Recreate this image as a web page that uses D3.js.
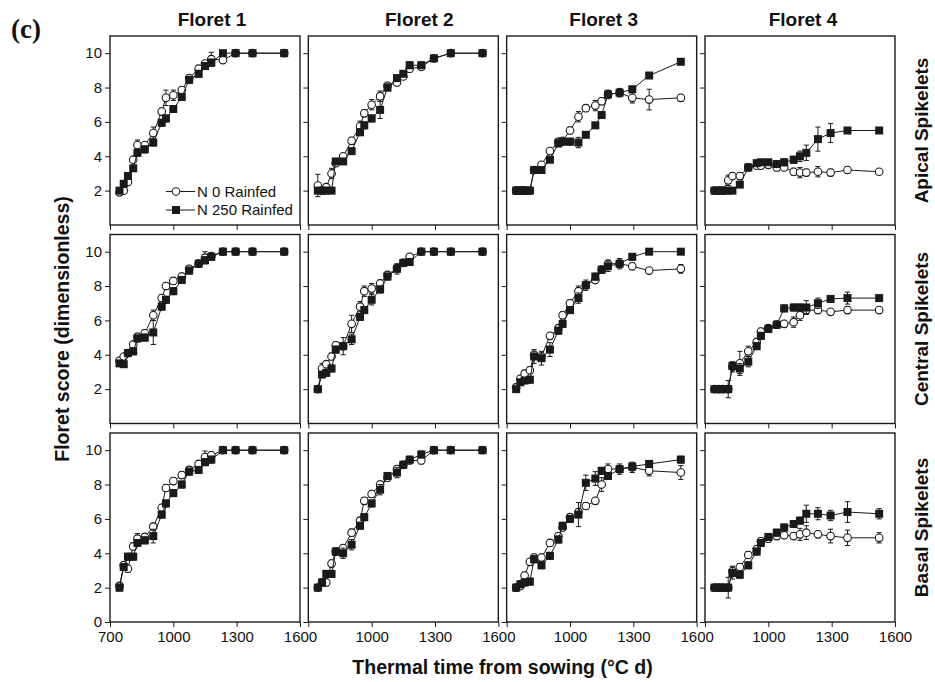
<!DOCTYPE html>
<html><head><meta charset="utf-8">
<script src="https://cdn.jsdelivr.net/npm/d3@7/dist/d3.min.js"></script>
<style>
html,body{margin:0;padding:0;background:#fff;}
text{font-family:"Liberation Sans",Arial,Helvetica,sans-serif;fill:#111;}
</style></head>
<body>
<svg id="chart" width="935" height="682"></svg>
<script>
// ---------- DATA ----------
const thermalTime = [745, 765, 785, 810, 830, 865, 905, 945, 965, 1000, 1040, 1075, 1120, 1150, 1180, 1235, 1295, 1375, 1525];
const floretTitles = ["Floret 1", "Floret 2", "Floret 3", "Floret 4"];
const spikeletTitles = ["Apical Spikelets", "Central Spikelets", "Basal Spikelets"];
const seriesNames = ["N 0 Rainfed", "N 250 Rainfed"];
const xTickValues = [700, 1000, 1300, 1600];
const yTickValuesUpper = [2, 4, 6, 8, 10];
const yTickValuesBottom = [0, 2, 4, 6, 8, 10];

// Floret score, one inner array per floret (1..4)
const n0Apical = [
  [1.9, 2.0, 2.5, 3.8, 4.65, 4.65, 5.35, 6.6, 7.4, 7.55, 7.85, 8.55, 9.1, 9.4, 9.65, 9.6, 10, 10, 10],
  [2.3, 2.0, 2.2, 3.0, 3.6, 4.0, 4.9, 5.75, 6.5, 7.0, 7.5, 8.1, 8.3, 8.65, 9.1, 9.2, 9.7, 10, 10],
  [2.0, 2.0, 2.0, 2.0, 3.2, 3.5, 4.3, 4.85, 4.9, 5.5, 6.3, 6.8, 6.95, 7.2, 7.6, 7.7, 7.4, 7.3, 7.4],
  [2.0, 2.0, 2.0, 2.6, 2.85, 2.85, 3.35, 3.45, 3.45, 3.5, 3.35, 3.35, 3.1, 3.05, 3.05, 3.1, 3.05, 3.2, 3.1]
];
const n250Apical = [
  [2.0, 2.4, 2.85, 3.3, 4.2, 4.4, 4.8, 5.95, 6.2, 6.75, 7.45, 8.45, 8.8, 9.25, 9.45, 10, 10, 10, 10],
  [2.0, 2.0, 2.0, 2.0, 3.7, 3.7, 4.3, 5.4, 5.8, 6.2, 6.7, 8.0, 8.55, 8.8, 9.3, 9.3, 9.7, 10, 10],
  [2.0, 2.0, 2.0, 2.0, 3.2, 3.2, 3.8, 4.75, 4.85, 4.85, 4.8, 5.25, 5.8, 6.4, 7.6, 7.7, 7.9, 8.7, 9.5],
  [2.0, 2.0, 2.0, 2.0, 2.0, 2.35, 3.35, 3.6, 3.65, 3.65, 3.55, 3.65, 3.8, 4.0, 4.2, 5.0, 5.35, 5.5, 5.5]
];
const n0Central = [
  [3.65, 3.9, 4.1, 4.6, 5.05, 5.25, 6.3, 7.3, 8.0, 8.3, 8.55, 9.0, 9.3, 9.65, 9.75, 10, 10, 10, 10],
  [2.0, 3.2, 3.45, 3.9, 4.55, 4.5, 5.8, 6.8, 7.7, 7.85, 8.15, 8.65, 9.05, 9.35, 9.7, 10, 10, 10, 10],
  [2.1, 2.6, 2.9, 3.1, 4.0, 3.9, 5.1, 5.55, 6.3, 7.0, 7.7, 8.05, 8.35, 8.95, 9.3, 9.3, 9.15, 8.9, 9.0],
  [2.0, 2.0, 2.0, 2.0, 3.3, 3.5, 4.2, 4.75, 5.35, 5.55, 5.75, 5.8, 5.9, 6.3, 6.6, 6.6, 6.5, 6.6, 6.6]
];
const n250Central = [
  [3.5, 3.45, 4.1, 4.2, 4.95, 5.0, 5.3, 6.8, 7.2, 7.7, 8.35, 8.9, 9.3, 9.5, 9.7, 10, 10, 10, 10],
  [2.0, 2.85, 2.95, 3.2, 4.3, 4.5, 4.9, 6.2, 6.6, 7.2, 7.8, 8.55, 9.0, 9.35, 9.4, 10, 10, 10, 10],
  [2.0, 2.4, 2.5, 2.55, 3.9, 3.8, 4.3, 5.4, 5.8, 6.6, 7.3, 8.05, 8.55, 8.95, 9.15, 9.3, 9.7, 10, 10],
  [2.0, 2.0, 2.0, 2.0, 3.35, 3.2, 3.6, 4.5, 5.1, 5.5, 5.75, 6.7, 6.75, 6.75, 6.75, 7.0, 7.25, 7.3, 7.3]
];
const n0Basal = [
  [2.1, 3.3, 3.1, 4.4, 4.85, 4.95, 5.55, 6.65, 7.8, 8.2, 8.55, 8.85, 9.2, 9.6, 9.7, 10, 10, 10, 10],
  [2.0, 2.3, 2.3, 3.4, 4.1, 4.3, 5.2, 5.9, 7.05, 7.45, 8.0, 8.4, 8.9, 9.15, 9.4, 9.4, 10, 10, 10],
  [2.0, 2.1, 2.7, 3.5, 3.75, 3.75, 4.6, 5.0, 5.5, 6.1, 6.4, 6.75, 7.05, 8.0, 8.9, 8.9, 9.0, 8.8, 8.7],
  [2.0, 2.0, 2.0, 2.0, 2.95, 3.2, 3.9, 4.25, 4.7, 4.85, 5.0, 5.05, 5.0, 5.1, 5.2, 5.1, 5.0, 4.9, 4.9]
];
const n250Basal = [
  [2.0, 3.2, 3.8, 3.8, 4.6, 4.75, 5.0, 6.25, 6.9, 7.5, 8.0, 8.75, 8.85, 9.3, 9.45, 10, 10, 10, 10],
  [2.0, 2.3, 2.8, 2.8, 4.1, 4.0, 4.5, 5.6, 6.1, 6.9, 7.7, 8.5, 8.7, 9.15, 9.45, 9.75, 10, 10, 10],
  [2.0, 2.2, 2.3, 2.35, 3.65, 3.3, 3.85, 4.8, 5.6, 6.0, 6.25, 8.1, 8.35, 8.8, 8.5, 8.9, 9.05, 9.2, 9.45],
  [2.0, 2.0, 2.0, 2.0, 2.85, 2.75, 3.3, 4.1, 4.6, 4.95, 5.2, 5.5, 5.7, 5.9, 6.3, 6.3, 6.2, 6.4, 6.3]
];

// Standard errors
const n0ApicalSE = [
  [.1,.1,.15,.15,.3,.15,.35,.2,.45,.3,.2,.15,.15,.15,.4,.15,0,0,0],
  [.65,.1,.2,.3,.2,.15,.2,.3,.2,.3,.3,.2,.2,.15,.2,.15,.1,0,0],
  [.2,.2,.2,.15,.15,.15,.15,.15,.15,.2,.3,.2,.3,.2,.2,.15,.3,.6,.2],
  [.1,.1,.1,.3,.2,.2,.2,.15,.15,.15,.2,.15,.2,.3,.2,.3,.2,.2,.1]
];
const n250ApicalSE = [
  [.15,.15,.15,.15,.2,.2,.2,.2,.2,.2,.2,.2,.2,.2,.2,0,0,0,0],
  [.1,.1,.15,.1,.15,.15,.15,.2,.2,.2,.5,.2,.15,.15,.2,.2,.15,0,0],
  [.2,.2,.2,.1,.15,.15,.15,.2,.2,.2,.3,.15,.15,.15,.25,.25,.15,.1,.1],
  [.1,.1,.1,.1,.15,.1,.15,.15,.15,.15,.15,.2,.2,.3,.45,.7,.55,.1,.1]
];
const n0CentralSE = [
  [.2,.15,.15,.15,.2,.2,.3,.2,.2,.2,.2,.2,.2,.35,.2,0,0,0,0],
  [.1,.3,.2,.2,.2,.2,.5,.3,.3,.3,.2,.2,.2,.2,.2,0,0,0,0],
  [.2,.2,.2,.2,.2,.2,.2,.2,.2,.2,.3,.2,.2,.2,.2,.2,.2,.1,.25],
  [.1,.1,.1,.1,.3,.7,.3,.2,.2,.2,.2,.2,.3,.3,.2,.2,.15,.2,.15]
];
const n250CentralSE = [
  [.15,.15,.15,.2,.2,.2,.7,.2,.2,.2,.2,.2,.2,.2,.2,0,0,0,0],
  [.1,.15,.2,.2,.2,.5,.3,.2,.2,.3,.2,.2,.3,.2,.2,0,0,0,0],
  [.1,.15,.15,.2,.4,.4,.4,.2,.2,.2,.3,.3,.2,.2,.3,.3,.2,.1,.1],
  [.1,.1,.1,.5,.2,.3,.3,.2,.2,.2,.2,.2,.2,.2,.4,.3,.2,.35,.1]
];
const n0BasalSE = [
  [.2,.2,.2,.2,.3,.2,.2,.2,.2,.2,.2,.2,.2,.35,.2,0,0,0,0],
  [.1,.2,.2,.2,.2,.2,.2,.2,.2,.2,.2,.2,.2,.2,.2,.2,.2,0,0],
  [.2,.2,.2,.2,.2,.2,.2,.2,.2,.2,.2,.2,.2,.4,.3,.3,.3,.3,.4],
  [.1,.1,.1,.6,.3,.2,.2,.2,.2,.2,.2,.2,.2,.35,.4,.2,.4,.45,.3]
];
const n250BasalSE = [
  [.2,.2,.2,.2,.2,.2,.4,.2,.2,.2,.2,.2,.2,.2,.2,0,0,0,0],
  [.1,.2,.2,.2,.2,.3,.3,.2,.2,.2,.3,.2,.3,.2,.2,.2,.2,0,0],
  [.2,.2,.2,.2,.2,.2,.2,.2,.2,.2,.7,.45,.4,.2,.2,.2,.2,.2,.2],
  [.1,.1,.1,.1,.35,.2,.2,.2,.2,.2,.2,.2,.2,.2,.5,.35,.3,.6,.3]
];

// ---------- LAYOUT ----------
const rowsN0 = [n0Apical, n0Central, n0Basal];
const rowsN250 = [n250Apical, n250Central, n250Basal];
const rowsN0SE = [n0ApicalSE, n0CentralSE, n0BasalSE];
const rowsN250SE = [n250ApicalSE, n250CentralSE, n250BasalSE];

const svg = d3.select("#chart");
const panelLeft0 = 110, panelW = 190, colStep = 198.33;
const panelBottom0 = 225, panelH = 189, rowStep = 198.5;
const ink = "#1a1a1a";
const sq = 8, cr = 3.8, capHalf = 2.6;

function addSeries(g, x, y, vals, se, isSquare) {
  const pts = thermalTime.map((t, i) => ({t, v: vals[i], e: se[i]}));
  const line = d3.line().x(d => x(d.t)).y(d => y(d.v));
  g.append("path").datum(pts).attr("d", line)
    .attr("fill", "none").attr("stroke", ink).attr("stroke-width", 1);
  const eb = g.append("g").attr("stroke", ink).attr("stroke-width", 1);
  pts.filter(d => d.e > 0).forEach(d => {
    const cx = x(d.t);
    eb.append("line").attr("x1", cx).attr("x2", cx).attr("y1", y(d.v - d.e)).attr("y2", y(d.v + d.e));
    [d.v - d.e, d.v + d.e].forEach(yy => {
      eb.append("line").attr("x1", cx - capHalf).attr("x2", cx + capHalf).attr("y1", y(yy)).attr("y2", y(yy));
    });
  });
  if (isSquare) {
    g.append("g").selectAll("rect").data(pts).join("rect")
      .attr("x", d => x(d.t) - sq / 2).attr("y", d => y(d.v) - sq / 2)
      .attr("width", sq).attr("height", sq).attr("fill", ink);
  } else {
    g.append("g").selectAll("circle").data(pts).join("circle")
      .attr("cx", d => x(d.t)).attr("cy", d => y(d.v)).attr("r", cr)
      .attr("fill", "#fff").attr("stroke", ink).attr("stroke-width", 1.1);
  }
}

for (let r = 0; r < 3; r++) {
  for (let c = 0; c < 4; c++) {
    const left = panelLeft0 + c * colStep;
    const bottom = panelBottom0 + r * rowStep;
    const x = d3.scaleLinear().domain([700, 1600]).range([left, left + panelW]);
    const y = d3.scaleLinear().domain([0, 11]).range([bottom, bottom - panelH]);
    const g = svg.append("g");

    // x axis
    const xa = d3.axisBottom(x).tickValues(xTickValues).tickSize(5).tickPadding(4)
      .tickFormat(d => (r === 2 && (c === 0 || d !== 700)) ? d : "");
    const gx = g.append("g").attr("transform", `translate(0,${bottom})`).call(xa);
    gx.select(".domain").remove();
    gx.selectAll("line").attr("stroke", ink);
    gx.selectAll("text").style("font-size", "15px").attr("fill", ink);

    // y axis
    const ya = d3.axisLeft(y).tickValues(r === 2 ? yTickValuesBottom : yTickValuesUpper)
      .tickSize(5).tickPadding(3).tickFormat(d => c === 0 ? d : "");
    const gy = g.append("g").attr("transform", `translate(${left},0)`).call(ya);
    gy.select(".domain").remove();
    gy.selectAll("line").attr("stroke", ink);
    gy.selectAll("text").style("font-size", "15px").attr("fill", ink);

    // frame
    g.append("rect").attr("x", left).attr("y", bottom - panelH)
      .attr("width", panelW).attr("height", panelH)
      .attr("fill", "none").attr("stroke", ink).attr("stroke-width", 1.4);

    const dataG = g.append("g");
    addSeries(dataG, x, y, rowsN0[r][c], rowsN0SE[r][c], false);
    addSeries(dataG, x, y, rowsN250[r][c], rowsN250SE[r][c], true);

    if (r === 0 && c === 0) {
      // legend
      const lg = g.append("g");
      [0, 1].forEach(k => {
        const ly = bottom - 33.5 + k * 18.5;
        lg.append("line").attr("x1", left + 56).attr("x2", left + 85)
          .attr("y1", ly).attr("y2", ly).attr("stroke", ink).attr("stroke-width", 1);
        if (k === 0) {
          lg.append("circle").attr("cx", left + 66).attr("cy", ly).attr("r", cr)
            .attr("fill", "#fff").attr("stroke", ink).attr("stroke-width", 1.1);
        } else {
          lg.append("rect").attr("x", left + 66 - sq / 2).attr("y", ly - sq / 2)
            .attr("width", sq).attr("height", sq).attr("fill", ink);
        }
        lg.append("text").attr("x", left + 87).attr("y", ly).attr("dy", "0.35em")
          .style("font-size", "15px").text(seriesNames[k]);
      });
    }
  }
}

// column titles
const titleOffsets = [7, 16, 2, 3];
floretTitles.forEach((t, c) => {
  svg.append("text").attr("x", panelLeft0 + c * colStep + panelW / 2 + titleOffsets[c]).attr("y", 26)
    .attr("text-anchor", "middle").style("font-size", "19px").style("font-weight", "bold").text(t);
});
// row titles
spikeletTitles.forEach((t, r) => {
  const cy = panelBottom0 + r * rowStep - panelH / 2;
  svg.append("text").attr("transform", `translate(928,${cy}) rotate(-90)`)
    .attr("text-anchor", "middle").style("font-size", "19px").style("font-weight", "bold").text(t);
});
// axis titles
svg.append("text").attr("transform", `translate(69,329) rotate(-90)`)
  .attr("text-anchor", "middle").style("font-size", "19.5px").style("font-weight", "bold")
  .text("Floret score (dimensionless)");
svg.append("text").attr("x", 502.5).attr("y", 674).attr("text-anchor", "middle")
  .style("font-size", "19.5px").style("font-weight", "bold")
  .text("Thermal time from sowing (°C d)");
// panel tag
svg.append("text").attr("x", 11).attr("y", 38)
  .style("font-family", "'Liberation Serif','Times New Roman',serif")
  .style("font-size", "27px").style("font-weight", "bold").text("(c)");
</script>
</body></html>
